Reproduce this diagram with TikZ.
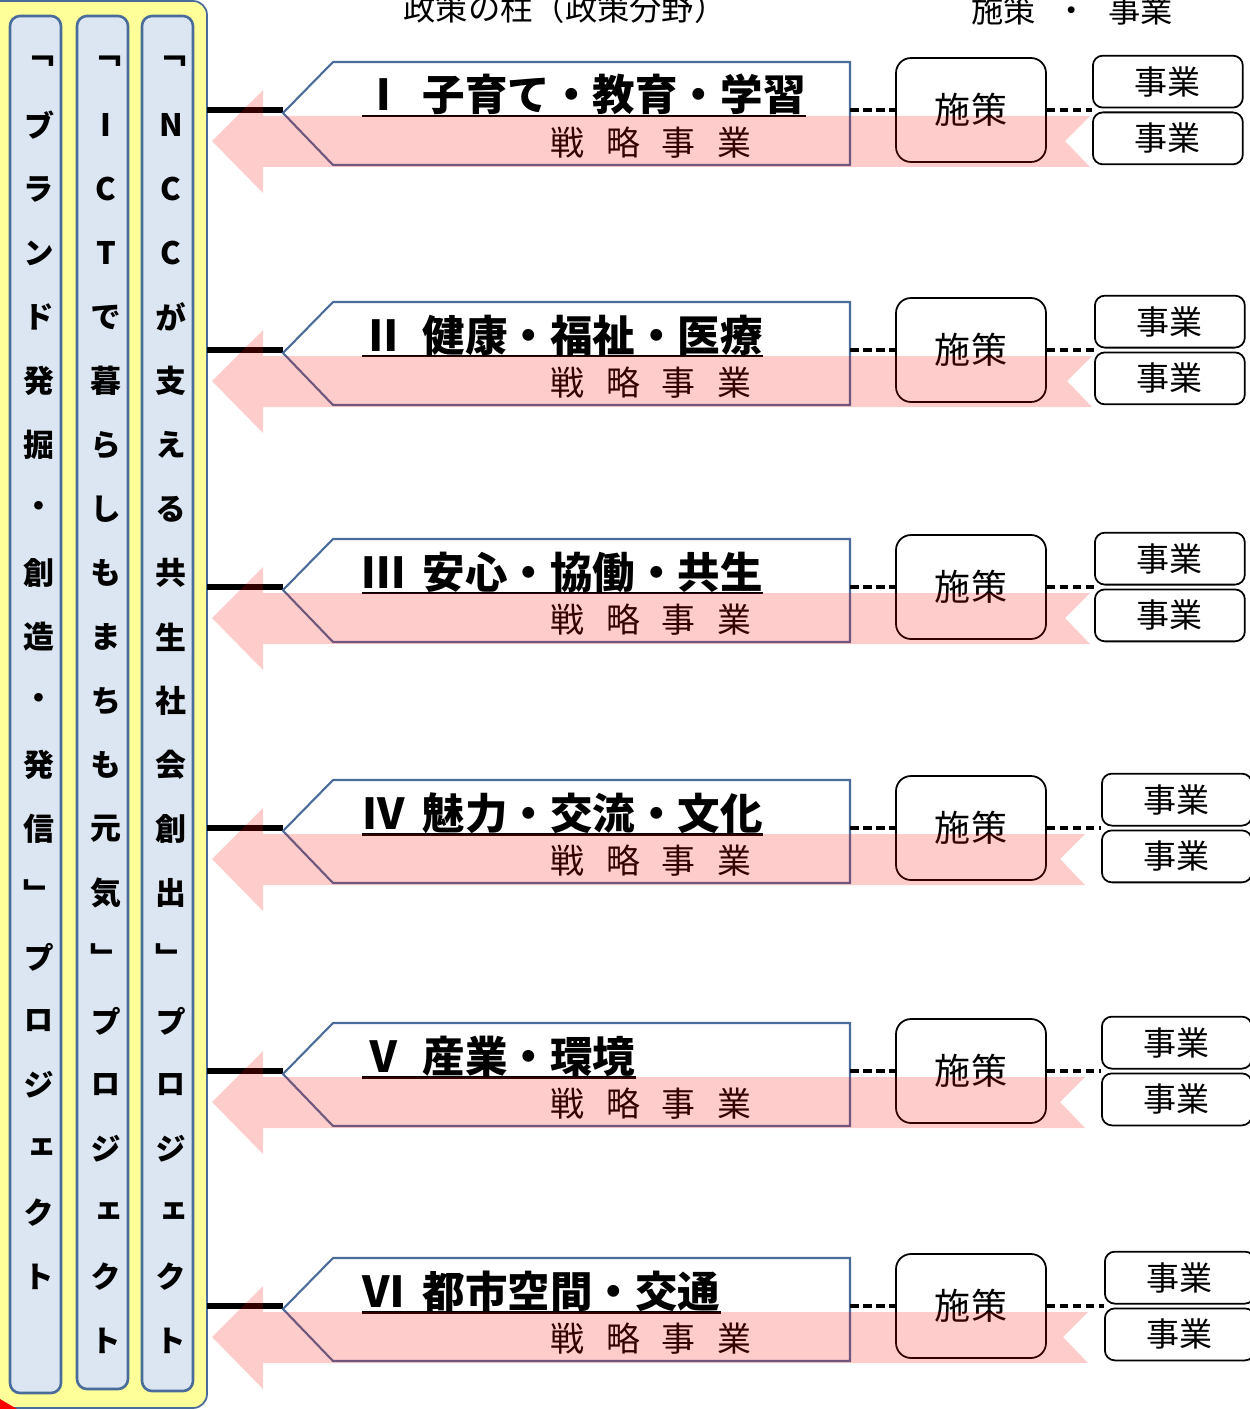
\documentclass[tikz,border=0pt]{standalone}
\usepackage{fontspec}
\usepackage{tikz}
\newfontfamily\jp{Noto Sans CJK JP}
\newfontfamily\jpv[RawFeature=+vert]{Noto Sans CJK JP}
\usetikzlibrary{positioning}

\definecolor{panelyellow}{HTML}{FFFF99}
\definecolor{colblue}{HTML}{DCE6F2}
\definecolor{edgeblue}{HTML}{4A6C9B}

\tikzset{
  colbox/.style={draw=edgeblue, line width=1.5pt, fill=colblue, rounded corners=0.2cm},
  colchar/.style={font=\jpv\bfseries\fontsize{17.6pt}{18pt}\selectfont, inner sep=0pt},
  head/.style={font=\jp\fontsize{18.4pt}{19pt}\selectfont, inner sep=0pt},
  pillar/.style={draw=edgeblue, line width=1.2pt, fill=white},
  pillartitle/.style={font=\jp\bfseries\fontsize{24.2pt}{25pt}\selectfont, anchor=base west, inner sep=0pt},
  strat/.style={font=\jp\fontsize{19.3pt}{20pt}\selectfont, inner sep=0pt},
  shisaku/.style={draw, line width=1pt, fill=white, rounded corners=0.3cm, minimum width=3cm, minimum height=2.08cm, inner sep=0pt, font=\jp\fontsize{20.5pt}{21pt}\selectfont},
  jigyo/.style={draw, line width=1pt, fill=white, rounded corners=0.2cm, minimum width=3cm, minimum height=1.04cm, inner sep=0pt, font=\jp\fontsize{18.8pt}{19pt}\selectfont},
  link/.style={line width=2.4pt, dash pattern=on 0.17cm off 0.09cm},
  pinkarrow/.style={fill=red, fill opacity=0.2}
}

\begin{document}
\begin{tikzpicture}[x=0.02cm, y=-0.02cm]
\useasboundingbox (0,0) rectangle (1249,1409);

% project panel
\draw[draw=edgeblue, line width=1pt, fill=panelyellow, rounded corners=0.28cm] (-20,1) rectangle (207,1408);
\coordinate (pe) at (207,0);
\draw[colbox] (10,16) rectangle (61,1393);
\draw[colbox] (77,16) rectangle (128,1389);
\draw[colbox] (142,16) rectangle (193,1391);
\fill[red] (0,1399) -- (17,1409) -- (0,1409) -- cycle;

% project names
\foreach \cx/\chars [count=\m] in {
  39/{﹁,ブ,ラ,ン,ド,発,掘,・,創,造,・,発,信,﹂,プ,ロ,ジ,ェ,ク,ト},
  106/{﹁,I,C,T,で,暮,ら,し,も,ま,ち,も,元,気,﹂,プ,ロ,ジ,ェ,ク,ト},
  171/{﹁,N,C,C,が,支,え,る,共,生,社,会,創,出,﹂,プ,ロ,ジ,ェ,ク,ト}}
  \foreach \c [count=\k from 0] in \chars
    \node[colchar] (c\m-\k) at (\cx,61+64*\k) {\c};

% headings
\node[head] (h1) at (565,8) {政策の柱（政策分野）};
\node[head] (h2) at (1072,10) {施策\hspace{0.4cm}・\hspace{0.4cm}事業};

% policy rows
\foreach \y/\ttl/\jx/\ae [count=\i] in {
  110/{Ⅰ\hspace{0.36cm}子育て・教育・学習}/1092/1090,
  350/{Ⅱ\hspace{0.36cm}健康・福祉・医療}/1094/1092,
  587/{Ⅲ\hspace{0.36cm}安心・協働・共生}/1094/1090,
  828/{Ⅳ\hspace{0.36cm}魅力・交流・文化}/1101/1085,
  1071/{Ⅴ\hspace{0.36cm}産業・環境}/1101/1085,
  1306/{Ⅵ\hspace{0.36cm}都市空間・交通}/1104/1088}{
  \coordinate (tip\i) at (283,\y);
  \coordinate (pr\i) at (850,\y);
  \draw[line width=3.6pt] (pe |- tip\i) -- (tip\i);
  \draw[pillar] (283,\y+3) -- (333,\y-48) -- (850,\y-48) -- (850,\y+55) -- (333,\y+55) -- cycle;
  \node[pillartitle] (t\i) at (362,\y+1) {\ttl};
  \draw[line width=1.7pt] ([yshift=-0.1cm]t\i.base west) -- ([yshift=-0.1cm]t\i.base east);
  \node[strat] (st\i) at (651,\y+33) {戦\hspace{0.44cm}略\hspace{0.44cm}事\hspace{0.44cm}業};
  \node[shisaku] (s\i) at (971,\y) {施策};
  \node[jigyo, anchor=south west] (ja\i) at (\jx,\y-1.5) {事業};
  \node[jigyo, below=0.06cm of ja\i] (jb\i) {事業};
  \draw[link] (pr\i) -- (s\i.west);
  \draw[link] (s\i.east) -- (s\i.east -| ja\i.west);
  \fill[pinkarrow] (212,\y+31) -- (263,\y-20) -- (263,\y+6) -- (\ae,\y+6) -- (\ae-25,\y+31)
    -- (\ae,\y+57) -- (263,\y+57) -- (263,\y+83) -- cycle;
}
\end{tikzpicture}
\end{document}
